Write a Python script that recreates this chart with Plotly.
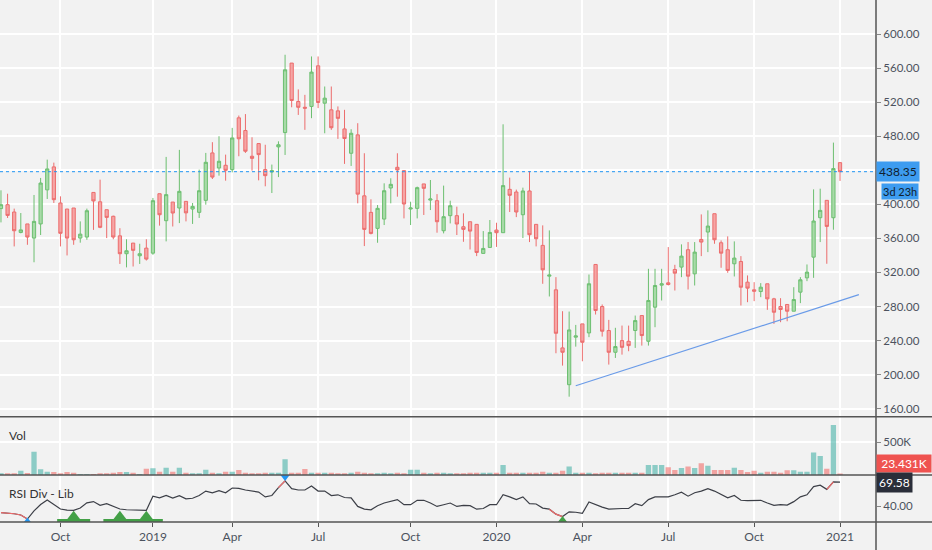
import pandas as pd
import plotly.graph_objects as go
from plotly.subplots import make_subplots

# weekly bars, Jul 30 2018 .. Jan 4 2021
dates = pd.date_range("2018-07-30", periods=128, freq="7D")

opens = [
    395, 399.6, 391, 367, 377, 360.4, 377, 417, 444, 401.6,
    394.5, 395.7, 360.4, 361.6, 414, 403, 393.7, 386, 363, 342,
    354.5, 339.6, 348.6, 342.7, 412.5, 380.8, 402.7, 395.7, 403.5, 394.5,
    390.6, 404.7, 460.4, 442.7, 445.9, 440.8, 501.6, 486.7, 456.5, 471.4,
    440.8, 438, 467.5, 484.3, 565.9, 520.8, 514, 515, 562.7, 518.8,
    511, 509.8, 488.6, 460, 481.6, 410, 390.6, 371.8, 382.7, 419.2,
    443.5, 439.6, 394.5, 395.3, 424, 405, 404.3, 369, 386.7, 386.7,
    373.7, 379.6, 376.5, 342.4, 349.4, 369.8, 366.7, 417.6, 414.5, 387.8,
    415.7, 376.5, 351.8, 315.7, 299.6, 231.4, 188.2, 244, 259.6, 249,
    329.4, 280, 251.8, 226.3, 240, 239.2, 251.8, 269.4, 239.2, 279.2,
    305.1, 307.8, 323.5, 326.3, 346.7, 318.4, 358.8, 367.5, 389, 354.9,
    346.7, 330.2, 332.9, 308.6, 299.6, 297.6, 306.7, 289, 280, 282.4,
    274.5, 296.9, 313.7, 338, 384.3, 404.7, 384.3, 449,
]
highs = [
    416.5, 412.5, 395, 389.8, 377, 411, 431, 452.5, 449, 409.4,
    394.5, 395.7, 380, 395, 414, 429, 393.7, 386.7, 372, 359,
    354.5, 353.7, 359, 407.5, 412.5, 455.7, 402.7, 464, 403.5, 401.6,
    440.8, 460.4, 473, 480, 458.4, 489.8, 504.3, 506, 478.8, 471.4,
    470, 446.7, 474, 575.7, 565.9, 535, 528.6, 573.7, 573.7, 538.4,
    538.4, 515, 511, 488.2, 495.3, 460, 405.9, 399.2, 424.7, 430.6,
    460, 439.6, 403.1, 420.8, 424, 428.6, 412, 422, 404.3, 397.3,
    389.4, 379.6, 376.5, 368.6, 381.6, 378.4, 494, 431.4, 417.3, 419.6,
    439.2, 376.5, 375.3, 369.4, 314.5, 274.5, 274.1, 258.4, 259.6, 317.6,
    329.4, 282.4, 264.3, 255, 257.6, 257.6, 269.4, 269.4, 324.3, 324.3,
    324.3, 349.8, 329, 353, 355.7, 355.7, 388.2, 392.9, 389, 357.6,
    362.4, 356.5, 339.2, 316.5, 308.6, 307.5, 306.7, 290.2, 289.8, 282.4,
    302.7, 314.5, 329.4, 417.6, 418.4, 404.7, 472.5, 449,
]
lows = [
    378.8, 384, 350.6, 366, 352.5, 332, 364, 406.3, 401.6, 350.6,
    340, 352.5, 355, 358.4, 370, 372, 360.4, 359, 330, 326,
    327, 330, 334, 340.8, 375, 356.5, 374, 378, 380, 377,
    384, 399.6, 429.8, 433.7, 427.8, 437.6, 456.5, 460.4, 439.6, 428.2,
    421.2, 413.3, 432, 458, 514, 505, 487.5, 501.2, 513, 483.5,
    487.5, 476.9, 447.5, 445.1, 401.2, 351, 364.7, 354.9, 375.7, 401.2,
    409, 383.5, 375.7, 383.5, 387.5, 393.3, 366.7, 365.9, 377.6, 364,
    356, 347, 339.2, 342.4, 349.4, 350, 366.7, 391, 385, 360.4,
    355.7, 350.6, 306.7, 291.8, 225.1, 210.6, 174.1, 232.9, 215.7, 244,
    270.6, 244.7, 211.8, 219.6, 223.5, 227.5, 231.4, 234.1, 234.1, 255.7,
    287.1, 304.7, 298.8, 314.5, 300, 304.7, 339.2, 343.9, 353.7, 325.5,
    319.6, 315.3, 281.2, 285.1, 286.3, 291, 276.1, 259.6, 261.6, 262.7,
    274.5, 284, 309.8, 313.7, 355.7, 330.2, 370.2, 427.5,
]
closes = [
    399.6, 387, 369, 370, 361.6, 380, 425, 441.6, 405.5, 366,
    360.4, 358.4, 365, 392.5, 404, 373, 384.7, 361.6, 342, 345.5,
    346, 342, 335.7, 404.3, 387.8, 411.4, 389.8, 415.3, 390, 397.6,
    416, 449.4, 432, 450.6, 440, 478, 477, 462.4, 454, 458.4,
    433.7, 439.6, 470, 558, 522, 514, 513, 555.3, 519.6, 524.7,
    490, 501, 477.3, 483.5, 412, 370.6, 365.9, 395.3, 416, 423.5,
    440.4, 400.4, 395.7, 419.6, 418.8, 406.3, 379.6, 385.5, 398.4, 376.9,
    370.6, 368.6, 343.5, 348.2, 367, 366.7, 422, 410.6, 391, 415.7,
    364.3, 359.6, 323.1, 316.9, 248.6, 226.3, 252.5, 245.5, 238, 306.7,
    275.3, 251, 226.3, 233, 232.1, 234.1, 263.5, 245.9, 287.1, 304.7,
    306.7, 305.9, 319.2, 339.2, 315.7, 343.9, 355.7, 374.5, 358.4, 342.7,
    322.4, 336.9, 302.7, 301.6, 298, 302.7, 289, 273.3, 276.5, 274.5,
    288.2, 311.4, 320.4, 380.4, 392.9, 374.1, 442, 438.35,
]
# volume in thousands
volumes = [
    25, 25, 25, 66, 30, 357, 87, 51, 46, 25,
    46, 36, 15, 15, 15, 25, 25, 36, 46, 46,
    36, 15, 97, 102, 51, 112, 51, 112, 36, 25,
    25, 82, 36, 25, 51, 51, 77, 36, 25, 25,
    36, 36, 36, 240, 36, 36, 92, 36, 36, 36,
    36, 25, 25, 36, 51, 36, 25, 25, 36, 25,
    36, 25, 82, 82, 36, 25, 36, 36, 25, 25,
    25, 36, 36, 36, 36, 36, 153, 36, 36, 36,
    36, 36, 51, 36, 36, 66, 128, 36, 36, 36,
    25, 36, 36, 36, 36, 36, 36, 36, 153, 153,
    153, 117, 77, 107, 128, 107, 179, 143, 77, 77,
    77, 112, 77, 46, 66, 36, 51, 51, 36, 71,
    71, 51, 51, 342, 291, 97, 765, 23.431,
]
rsi = [
    32, 31.5, 30.5, 29, 24, 34, 42, 47.5, 41.8, 36.4,
    35.1, 34.7, 37.6, 44, 45.6, 41, 43.1, 39.7, 36.4, 35.5,
    35.5, 35.5, 34.7, 52.3, 50.3, 53.2, 49.9, 53, 49, 49.7,
    53, 58.6, 56.5, 59, 56.5, 62.4, 62, 59.9, 58.2, 57.4,
    51.4, 53.1, 62.8, 71.3, 61.6, 59.9, 59.9, 64.9, 58.6, 58.6,
    53.1, 54, 50.6, 50.2, 39.6, 36.2, 35.4, 40.5, 43.8, 45.5,
    48, 41.7, 41.7, 47.2, 47.2, 43.8, 39.6, 41.7, 43.8, 39.6,
    40.9, 40.5, 36.2, 37, 41.7, 41.7, 54, 51.4, 48, 51.4,
    43, 42.6, 37.5, 36.2, 30, 27, 32.9, 32.4, 31, 45,
    41.7, 38.8, 36.2, 37, 37, 37, 43, 40.5, 48, 51.4,
    51.4, 51.4, 54, 57.3, 52.3, 56.5, 58.6, 61.6, 58.6, 54.4,
    50.2, 53.1, 47.2, 46.8, 46.8, 47.2, 43.8, 40.9, 41.7, 41.3,
    45.5, 51.4, 54, 64.1, 65.8, 60.7, 70, 69.58,
]

# divergence marks (bar indexes)
rsi_red_spans = [(0, 4), (42, 43), (83, 85), (125, 126)]
bull_big = [11, 18, 22]
bull_small = [85]
bull_bands = [(9, 13), (16, 24)]
bear_top = [43]
bear_bottom = [4]

tick_dates = ["2018-10-01", "2019-01-07", "2019-04-01", "2019-07-01", "2019-10-07",
              "2020-01-06", "2020-04-06", "2020-07-06", "2020-10-05", "2021-01-04"]
tick_text = ["Oct", "2019", "Apr", "Jul", "Oct", "2020", "Apr", "Jul", "Oct", "2021"]
price_ticks = list(range(160, 601, 40))

trend_dates = ["2020-03-30", "2021-01-24"]
trend_prices = [187, 294]
last_price = 438.35
countdown = "3d 23h"

BG = "#f2f2f2"
TXT = "#4c525e"
x_range = ["2018-07-28 23:00", "2021-02-11 03:00"]

fig = make_subplots(rows=3, cols=1, shared_xaxes=True, vertical_spacing=0,
                    row_heights=[416.7, 58.3, 47])

fig.add_trace(go.Candlestick(
    x=dates, open=opens, high=highs, low=lows, close=closes,
    increasing=dict(fillcolor="#a8daa8", line=dict(color="#6cbf70", width=1)),
    decreasing=dict(fillcolor="#f6a5a5", line=dict(color="#ec6c6c", width=1)),
    hoverinfo="skip",
), row=1, col=1)

vol_colors = ["rgba(38,166,154,0.5)" if c >= o else "rgba(239,83,80,0.5)"
              for o, c in zip(opens, closes)]
fig.add_trace(go.Bar(x=dates, y=[v * 1000 for v in volumes], marker_color=vol_colors,
                     marker_line_width=0, hoverinfo="skip"), row=2, col=1)

# RSI band + line
fig.add_hrect(y0=30, y1=70, fillcolor="rgba(140,110,200,0.06)", line_width=0, row=3, col=1)
for lvl in (30, 70):
    fig.add_hline(y=lvl, line=dict(color="#666", width=1, dash="dash"), row=3, col=1)

fig.add_trace(go.Scatter(x=dates, y=rsi, mode="lines", line=dict(color="#3c3f47", width=1.2),
                         hoverinfo="skip"), row=3, col=1)
for a, b in rsi_red_spans:
    fig.add_trace(go.Scatter(x=dates[a:b + 1], y=rsi[a:b + 1], mode="lines",
                             line=dict(color="#f06c6c", width=1.2), hoverinfo="skip"),
                  row=3, col=1)

half = pd.Timedelta(days=3.5)
for a, b in bull_bands:
    fig.add_trace(go.Scatter(x=[dates[a] - half, dates[b] + half], y=[22.2, 22.2], mode="lines",
                             line=dict(color="#43a047", width=3), hoverinfo="skip",
                             cliponaxis=False), row=3, col=1)
fig.add_trace(go.Scatter(x=[dates[i] for i in bull_big], y=[25] * len(bull_big), mode="markers",
                         marker=dict(symbol="triangle-up", size=15, color="#43a047"),
                         hoverinfo="skip", cliponaxis=False), row=3, col=1)
fig.add_trace(go.Scatter(x=[dates[i] for i in bull_small], y=[22.8] * len(bull_small), mode="markers",
                         marker=dict(symbol="triangle-up", size=8, color="#43a047"),
                         hoverinfo="skip", cliponaxis=False), row=3, col=1)
fig.add_trace(go.Scatter(x=[dates[i] for i in bear_top], y=[76] * len(bear_top), mode="markers",
                         marker=dict(symbol="triangle-down", size=8, color="#2196f3"),
                         hoverinfo="skip", cliponaxis=False), row=3, col=1)
fig.add_trace(go.Scatter(x=[dates[i] for i in bear_bottom], y=[22.2] * len(bear_bottom), mode="markers",
                         marker=dict(symbol="triangle-up", size=6, color="#2196f3"),
                         hoverinfo="skip", cliponaxis=False), row=3, col=1)

# drawings on price pane
fig.add_shape(type="line", xref="x", yref="y", x0=trend_dates[0], x1=trend_dates[1],
              y0=trend_prices[0], y1=trend_prices[1], line=dict(color="#6a9be8", width=1.2))
fig.add_shape(type="line", xref="paper", yref="y", x0=0, x1=1, y0=last_price, y1=last_price,
              line=dict(color="#2196f3", width=1, dash="dot"))

# pane separators and axis frame
xr = 932 / 876
sep = [0, 47 / 522, 105.3 / 522]
for yy in sep:
    fig.add_shape(type="line", xref="paper", yref="paper", x0=0, x1=xr, y0=yy, y1=yy,
                  line=dict(color="#555", width=1.5))
fig.add_shape(type="line", xref="paper", yref="paper", x0=1, x1=1, y0=-28 / 522, y1=1,
              line=dict(color="#555", width=1.5))

fig.update_xaxes(range=x_range, tickvals=tick_dates, ticktext=tick_text,
                 showgrid=True, gridcolor="white", gridwidth=1.5, zeroline=False,
                 showline=False)
fig.update_xaxes(ticks="outside", ticklen=4, tickcolor="#555",
                 tickfont=dict(size=12, color=TXT), row=3, col=1)

# the last-price tag covers the nearest axis label
price_text = ["" if abs(p - last_price) < 8 else f"{p:.2f}" for p in price_ticks]

yfont = dict(size=11.5, color=TXT)
fig.update_yaxes(side="right", showgrid=True, gridcolor="white", gridwidth=1.5, zeroline=False,
                 ticks="outside", ticklen=4, tickcolor="#888", tickfont=yfont, showline=False)
fig.update_yaxes(range=[150.6, 640], tickvals=price_ticks, ticktext=price_text, row=1, col=1)
fig.update_yaxes(range=[0, 891000], tickvals=[500000], ticktext=["500K"], row=2, col=1)
fig.update_yaxes(range=[20.3, 78.5], tickvals=[40], tickformat=".2f", showgrid=False, row=3, col=1)

ann = []
ann.append(dict(xref="paper", yref="y", x=1, y=last_price, xanchor="left", yanchor="middle",
                text=f"{last_price:.2f}", showarrow=False, bgcolor="#3d9cf0",
                font=dict(size=12, color="#10202e"), borderpad=2))
ann.append(dict(xref="paper", yref="y", x=1, y=last_price, xanchor="left", yanchor="middle",
                yshift=-20, xshift=5, text=countdown, showarrow=False, bgcolor="#3d9cf0",
                font=dict(size=11, color="#10202e"), borderpad=1))
ann.append(dict(xref="paper", yref="y2", x=1, y=volumes[-1] * 1000, xanchor="left", yanchor="bottom",
                text=f"{volumes[-1]:.3f}K", showarrow=False, bgcolor="#ef5350",
                font=dict(size=12, color="white"), borderpad=1, width=52))
ann.append(dict(xref="paper", yref="y3", x=1, y=rsi[-1], xanchor="left", yanchor="middle",
                text=f"{rsi[-1]:.2f}", showarrow=False, bgcolor="#2a2e39",
                font=dict(size=12, color="white"), borderpad=2))
ann.append(dict(xref="paper", yref="paper", x=0.008, y=(522 - 435) / 522, xanchor="left",
                yanchor="middle", text="Vol", showarrow=False, font=dict(size=12, color="#333")))
ann.append(dict(xref="paper", yref="paper", x=0.008, y=(522 - 493) / 522, xanchor="left",
                yanchor="middle", text="RSI Div - Lib", showarrow=False,
                font=dict(size=12, color="#333")))

fig.update_layout(
    width=932, height=550,
    margin=dict(l=0, r=56, t=0, b=28),
    paper_bgcolor=BG, plot_bgcolor=BG,
    font=dict(family="Lato, Open Sans, sans-serif", color=TXT),
    showlegend=False, bargap=0.2,
    xaxis_rangeslider_visible=False,
    annotations=ann,
    hovermode=False,
)

# drop the browser's default 8px body margin so the figure fills the window
fig.write_html("out.html", config={"displayModeBar": False},
               post_script="document.body.style.margin='0';")
